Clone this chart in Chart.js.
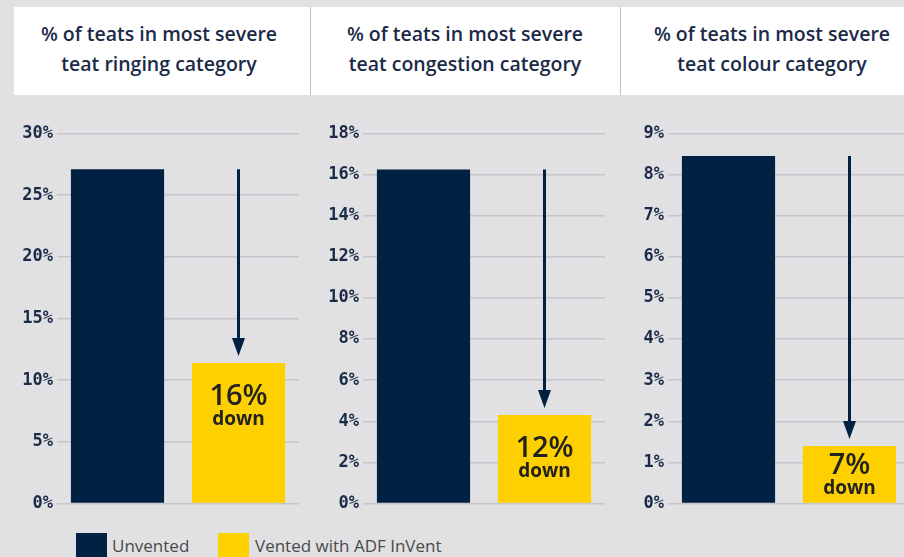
<!DOCTYPE html>
<html>
<head>
<meta charset="utf-8">
<script src="https://cdn.jsdelivr.net/npm/chart.js@4/dist/chart.umd.min.js"></script>
<style>
  html, body { margin: 0; padding: 0; }
  body { width: 904px; height: 557px; overflow: hidden; background: #e1e1e4; position: relative; font-family: "Open Sans", Lato, sans-serif; }
  .head { position: absolute; left: 14px; top: 7px; width: 890px; height: 88px; background: #fff; }
  .sep { position: absolute; top: 7px; width: 1px; height: 88px; background: #c2c2c6; }
  .title { position: absolute; top: 19px; width: 320px; text-align: center; color: #1b2a47; font-weight: 600; font-size: 19.5px; line-height: 30px; }
  canvas { position: absolute; top: 100px; }
  .legend { position: absolute; top: 533px; height: 24px; }
  .sw { position: absolute; top: 0; width: 31px; height: 24px; }
  .lt { position: absolute; top: 1px; white-space: nowrap; font-size: 17px; color: #4a4a4a; }
</style>
</head>
<body>
<div class="head"></div>
<div class="sep" style="left:310px"></div>
<div class="sep" style="left:620px"></div>
<div id="titles"></div>
<canvas id="c0" width="310" height="420" style="left:0px"></canvas>
<canvas id="c1" width="310" height="420" style="left:310px"></canvas>
<canvas id="c2" width="290" height="420" style="left:620px"></canvas>
<div id="legend"></div>
<script>
// categories (one chart per category)
var titles = [
  ["% of teats in most severe", "teat ringing category"],
  ["% of teats in most severe", "teat congestion category"],
  ["% of teats in most severe", "teat colour category"]
];
var seriesNames = ["Unvented", "Vented with ADF InVent"];
var unvented = [27.1, 16.25, 8.45];
var vented = [11.4, 4.3, 1.4];
var reduction = ["16%", "12%", "7%"];
var axisMax = [30, 18, 9];
var axisStep = [5, 2, 1];

var NAVY = "#012142";
var YELLOW = "#ffd000";
var titleCenters = [159, 465, 772];
var axisWidth = [57, 53, 48];
var padRight = [11, 15, 0];

// titles
var tHolder = document.getElementById("titles");
titles.forEach(function(t, i) {
  var d = document.createElement("div");
  d.className = "title";
  d.style.left = (titleCenters[i] - 160) + "px";
  d.innerHTML = t[0] + "<br>" + t[1];
  tHolder.append(d);
});

// legend
var lg = document.getElementById("legend");
[[76, 112], [218, 255]].forEach(function(p, i) {
  var box = document.createElement("div");
  box.className = "legend";
  box.style.left = p[0] + "px";
  box.innerHTML = '<div class="sw" style="left:0;background:' + (i == 0 ? NAVY : YELLOW) + '"></div>' +
    '<div class="lt" style="left:' + (p[1] - p[0]) + 'px">' + seriesNames[i] + '</div>';
  lg.append(box);
});

// strzalka + napis v rumenem stolpcu
var arrowPlugin = {
  id: "arrowLabel",
  afterDatasetsDraw: function(chart, args, opts) {
    var ctx = chart.ctx;
    var y = chart.scales.y;
    var meta = chart.getDatasetMeta(0);
    var bar = meta.data[1];
    var x = bar.x;
    var yTop = y.getPixelForValue(opts.from);
    var yBar = y.getPixelForValue(opts.to);
    var tip = yBar - 7;
    ctx.save();
    ctx.strokeStyle = NAVY;
    ctx.fillStyle = NAVY;
    ctx.lineWidth = 3;
    ctx.beginPath();
    ctx.moveTo(x, yTop);
    ctx.lineTo(x, tip - 14);
    ctx.stroke();
    ctx.beginPath();
    ctx.moveTo(x - 6.5, tip - 18);
    ctx.lineTo(x + 6.5, tip - 18);
    ctx.lineTo(x, tip);
    ctx.closePath();
    ctx.fill();
    // label
    var base = y.getPixelForValue(0);
    var cy = yBar + Math.min(43, (base - yBar) / 2);
    ctx.fillStyle = "#222";
    ctx.textAlign = "center";
    ctx.textBaseline = "alphabetic";
    ctx.font = "600 29px 'Open Sans'";
    ctx.fillText(opts.text, x, cy - 1);
    ctx.font = "700 19px 'Open Sans'";
    ctx.fillText("down", x, cy + 19);
    ctx.restore();
  }
};

for (var i = 0; i < 3; i++) {
  (function(i) {
    new Chart(document.getElementById("c" + i), {
      type: "bar",
      data: {
        labels: seriesNames,
        datasets: [{
          data: [unvented[i], vented[i]],
          backgroundColor: [NAVY, YELLOW],
          borderWidth: 0,
          categoryPercentage: 1,
          barPercentage: 0.77
        }]
      },
      options: {
        responsive: false,
        animation: false,
        devicePixelRatio: 1,
        layout: { padding: { top: 33.5, bottom: 16.5, left: 0, right: padRight[i] } },
        plugins: {
          legend: { display: false },
          tooltip: { enabled: false },
          arrowLabel: { from: unvented[i], to: vented[i], text: reduction[i] }
        },
        scales: {
          x: { display: false },
          y: {
            min: 0,
            max: axisMax[i],
            afterFit: function(scale) { scale.width = axisWidth[i]; },
            border: { display: false },
            grid: { color: "#c6c6ca", lineWidth: 1.5, drawTicks: false },
            ticks: {
              stepSize: axisStep[i],
              padding: 4,
              color: "#1b2a47",
              font: { family: "DejaVu Sans Mono", size: 17, weight: "bold" },
              callback: function(v) { return v + "%"; }
            }
          }
        }
      },
      plugins: [arrowPlugin]
    });
  })(i);
}
</script>
</body>
</html>
